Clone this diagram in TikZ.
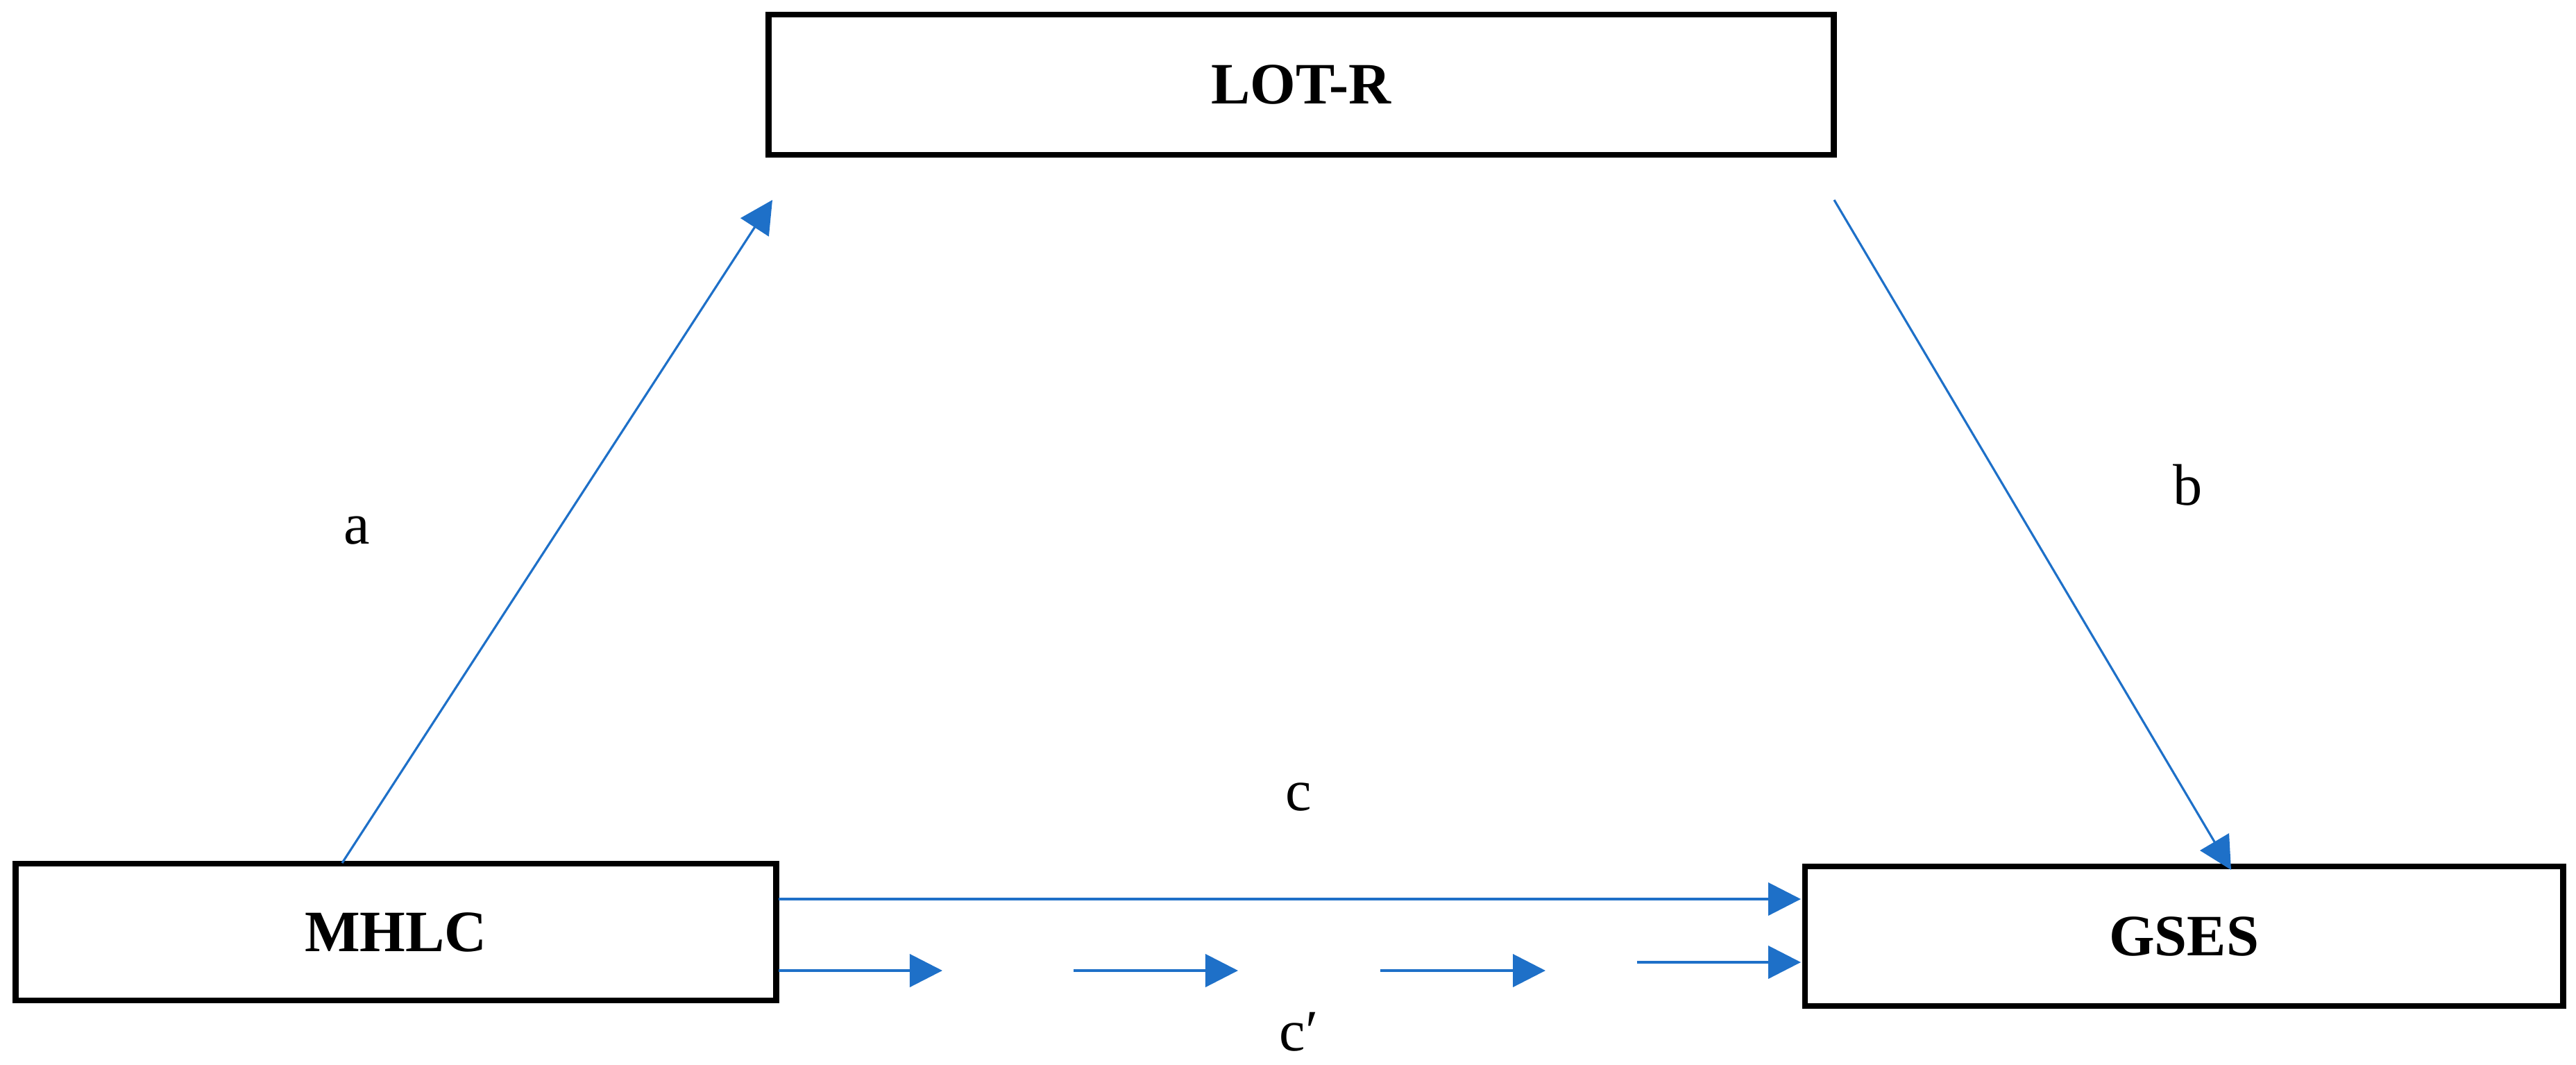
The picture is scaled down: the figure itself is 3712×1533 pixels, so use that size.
\documentclass[tikz,border=0pt]{standalone}
\usepackage{fontspec}
\setmainfont{Liberation Serif}
\usetikzlibrary{arrows.meta}
\definecolor{arrowblue}{RGB}{30,112,200}
\tikzset{
  varbox/.style={draw=black, line width=2.4pt, fill=white, inner sep=0pt,
    font=\fontsize{24}{28}\selectfont\bfseries},
  pathlabel/.style={inner sep=0pt, font=\fontsize{24}{28}\selectfont},
  diagarrow/.style={draw=arrowblue, line width=0.9pt, -{Triangle[length=0.47cm,width=0.48cm]}},
  horarrow/.style={draw=arrowblue, line width=1.15pt, -{Triangle[length=0.47cm,width=0.47cm]}}
}
\begin{document}
\begin{tikzpicture}[x=0.01cm,y=-0.01cm]
\useasboundingbox (0,0) rectangle (3712,1533);
% boxes
\node[varbox, minimum width=15.34cm, minimum height=2.02cm] (lot) at (1875,122) {LOT-R};
\node[varbox, minimum width=10.95cm, minimum height=1.97cm] (mhlc) at (570.5,1342.5) {MHLC};
\node[varbox, minimum width=10.92cm, minimum height=2.01cm] (gses) at (3147,1348.5) {GSES};
% free ends
\coordinate (atip) at (1113,288);
\coordinate (bstart) at (2643,288);
\coordinate (astart) at (493,1243);
\coordinate (btip) at (3215,1253);
\coordinate (cstart) at (1122,1295);
\coordinate (cend) at (2595,1295);
\coordinate (d1s) at (1122,1398);
\coordinate (d1e) at (1358,1398);
\coordinate (d2s) at (1547,1398);
\coordinate (d2e) at (1784,1398);
\coordinate (d3s) at (1989,1398);
\coordinate (d3e) at (2227,1398);
\coordinate (d4s) at (2359,1386);
\coordinate (d4e) at (2595,1386);
% connectors
\draw[diagarrow] (astart) -- (atip);
\draw[diagarrow] (bstart) -- (btip);
\draw[horarrow] (cstart) -- (cend);
\draw[horarrow] (d1s) -- (d1e);
\draw[horarrow] (d2s) -- (d2e);
\draw[horarrow] (d3s) -- (d3e);
\draw[horarrow] (d4s) -- (d4e);
% labels
\node[pathlabel, anchor=base] (la) at (514,783) {a};
\node[pathlabel, anchor=base] (lb) at (3153,727) {b};
\node[pathlabel, anchor=base] (lc) at (1871,1167) {c};
\node[pathlabel, anchor=base west] (lcp) at (1843,1513) {c′};
\end{tikzpicture}
\end{document}
